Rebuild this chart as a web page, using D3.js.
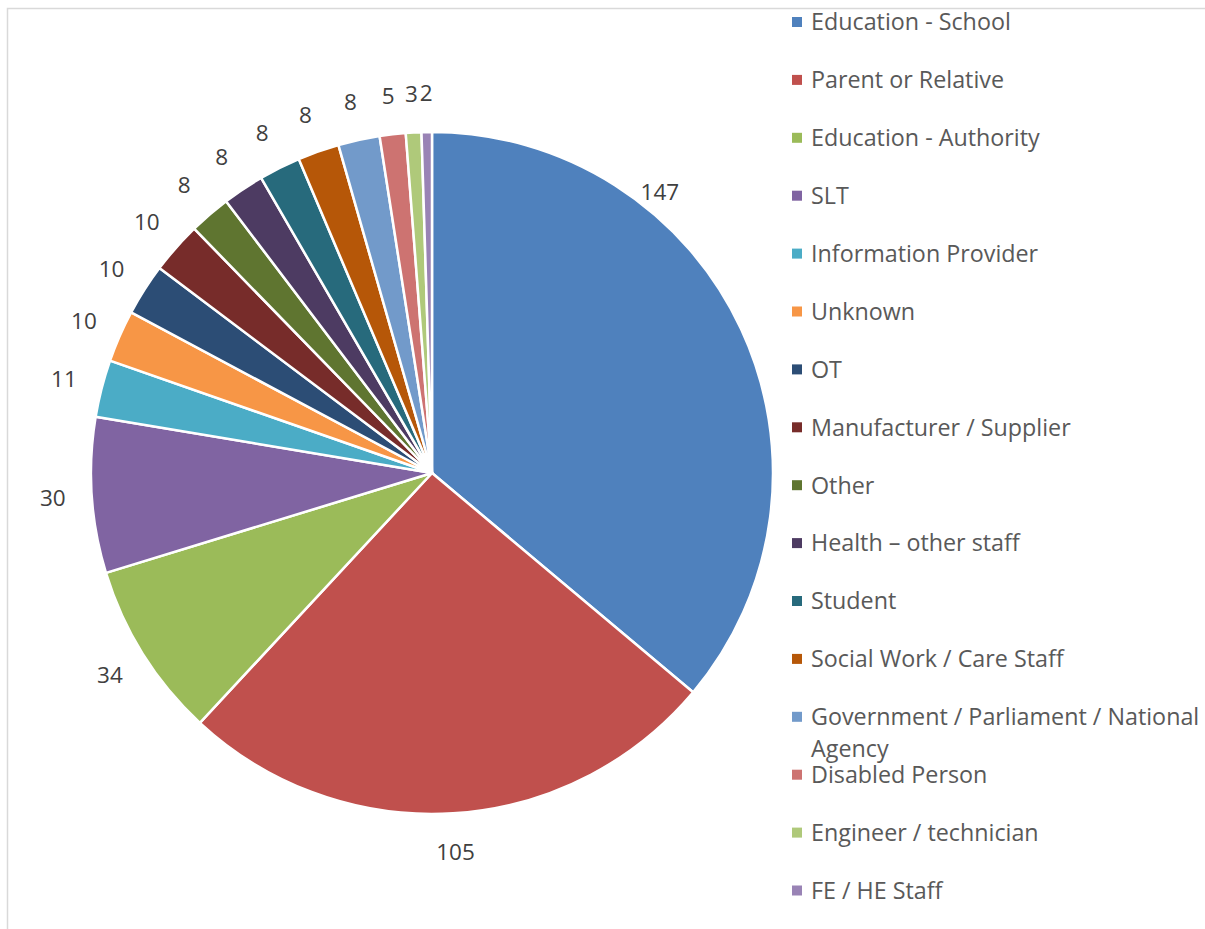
<!DOCTYPE html>
<html>
<head>
<meta charset="utf-8">
<script src="https://cdn.jsdelivr.net/npm/d3@7"></script>
<style>
  html, body { margin: 0; padding: 0; background: #fff; }
  svg { display: block; }
  text { font-family: "Open Sans", Lato, sans-serif; }
</style>
</head>
<body>
<svg id="chart" width="1205" height="929"></svg>
<script>
// Enquiries by type of contact
const categories = [
  "Education - School", "Parent or Relative", "Education - Authority", "SLT",
  "Information Provider", "Unknown", "OT", "Manufacturer / Supplier", "Other",
  "Health \u2013 other staff", "Student", "Social Work / Care Staff",
  "Government / Parliament / National Agency", "Disabled Person",
  "Engineer / technician", "FE / HE Staff"
];
const values = [147, 105, 34, 30, 11, 10, 10, 10, 8, 8, 8, 8, 8, 5, 3, 2];
const colors = [
  "#4F81BD", "#C0504D", "#9BBB59", "#8064A2", "#4BACC6", "#F79646",
  "#2C4D75", "#772C2A", "#5F7530", "#4D3B62", "#276A7C", "#B65708",
  "#729ACA", "#CD7371", "#AFC97A", "#9983B5"
];

const svg = d3.select("#chart");

// chart area frame
svg.append("rect")
  .attr("x", 7.5).attr("y", 8.5)
  .attr("width", 1300).attr("height", 1000)
  .attr("fill", "none").attr("stroke", "#d9d9d9").attr("stroke-width", 1.5);

const cx = 432, cy = 473, radius = 341;
const color = d3.scaleOrdinal().domain(categories).range(colors);

const pie = d3.pie().sort(null).value(d => d.value);
const data = categories.map((c, i) => ({ name: c, value: values[i] }));
const arcs = pie(data);

const arc = d3.arc().innerRadius(0).outerRadius(radius);

const g = svg.append("g").attr("transform", `translate(${cx},${cy})`);

g.selectAll("path.slice")
  .data(arcs)
  .join("path")
  .attr("class", "slice")
  .attr("d", arc)
  .attr("fill", d => color(d.data.name))
  .attr("stroke", "#fff")
  .attr("stroke-width", 2.5)
  .attr("stroke-linejoin", "round");

// value labels just outside each slice; the large first slice's label is nudged
// toward the top so it stays clear of the legend
const labelRadius = 380;
g.selectAll("text.value")
  .data(arcs)
  .join("text")
  .attr("class", "value")
  .attr("transform", (d, i) => {
    let a = (d.startAngle + d.endAngle) / 2;
    let r = labelRadius;
    if (i === 0) { a = 39 * Math.PI / 180; r = 362; }
    return `translate(${Math.sin(a) * r},${-Math.cos(a) * r})`;
  })
  .attr("text-anchor", "middle")
  .attr("dy", "0.36em")
  .attr("font-size", 22.5)
  .attr("fill", "#404040")
  .text(d => d.data.value);

// legend
const legendX = 792, legendY0 = 22, legendStep = 57.9, maxTextW = 400;
const legend = svg.append("g");
categories.forEach((c, i) => {
  const y = legendY0 + i * legendStep;
  legend.append("rect")
    .attr("x", legendX).attr("y", y - 5)
    .attr("width", 10).attr("height", 10)
    .attr("fill", colors[i]);
  const t = legend.append("text")
    .attr("x", legendX + 19).attr("y", y)
    .attr("font-size", 23.3)
    .attr("fill", "#595959");
  // simple word wrap
  const words = c.split(" ");
  let line = [];
  let ts = t.append("tspan").attr("x", legendX + 19).attr("dy", "0.36em");
  words.forEach(w => {
    line.push(w);
    ts.text(line.join(" "));
    if (ts.node().getComputedTextLength() > maxTextW && line.length > 1) {
      line.pop();
      ts.text(line.join(" "));
      line = [w];
      ts = t.append("tspan").attr("x", legendX + 19).attr("dy", "1.38em").text(w);
    }
  });
});
</script>
</body>
</html>
